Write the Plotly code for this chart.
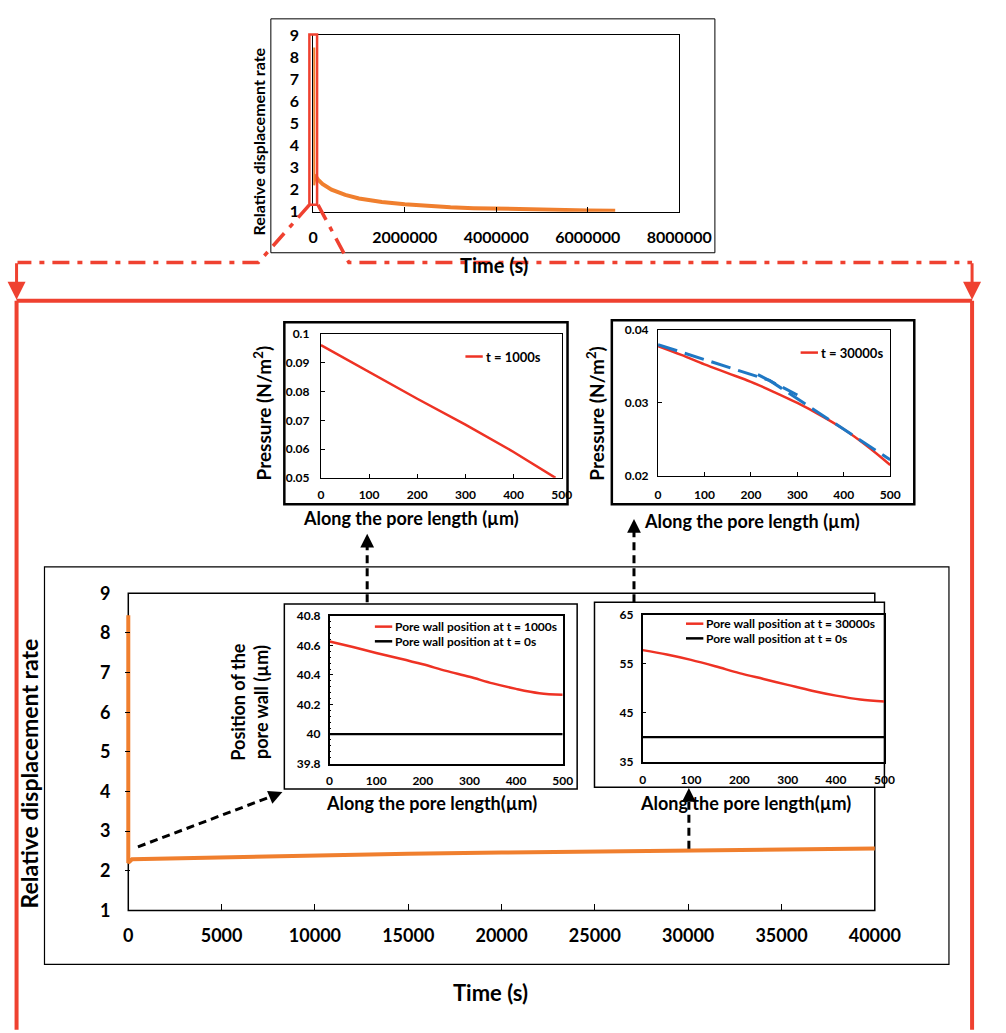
import plotly.graph_objects as go

W, H = 1006, 1033
FONT = "Lato"
BLACK = "#000000"
ORANGE = "#F07F2E"
RED = "#EE3224"
FRAME_RED = "#EF4130"
BLUE = "#1F78C4"

# ---------------- data ----------------
# relative displacement rate vs time (overview and early-time view share it)
time_s = [0, 0, 200, 5000, 10000, 15000, 20000, 25000, 30000, 35000, 40000,
          60000, 100000, 200000, 400000, 700000, 1000000, 1500000, 2000000,
          2500000, 3000000, 3500000, 4000000, 4500000, 5000000, 5500000,
          6000000, 6600000]
rel_rate = [8.45, 2.2, 2.29, 2.34, 2.39, 2.43, 2.46, 2.49, 2.52, 2.54, 2.56,
            2.58, 2.47, 2.26, 2.0, 1.76, 1.6, 1.44, 1.34, 1.26, 1.2, 1.16,
            1.13, 1.1, 1.08, 1.065, 1.055, 1.045]

rate_ticks = [1, 2, 3, 4, 5, 6, 7, 8, 9]
overview_time_ticks = [0, 2000000, 4000000, 6000000, 8000000]
zoom_time_ticks = [0, 5000, 10000, 15000, 20000, 25000, 30000, 35000, 40000]
length_ticks = [0, 100, 200, 300, 400, 500]

# pressure along the pore
pore_x_p1000 = [0, 100, 200, 300, 400, 487]
pressure_1000 = [0.0961, 0.0868, 0.0775, 0.0685, 0.0590, 0.0500]
pressure_1000_ticks = [0.05, 0.06, 0.07, 0.08, 0.09, 0.1]

pore_x = [0, 50, 100, 150, 200, 250, 300, 350, 400, 450, 500]
pressure_30000 = [0.0378, 0.0366, 0.0353, 0.0341, 0.0329, 0.0315, 0.0300,
                  0.0283, 0.0264, 0.0241, 0.0215]
pressure_30000_ticks = [0.02, 0.03, 0.04]
fit_a_x = [0, 240, 500]
fit_a_y = [0.0380, 0.0331, 0.0222]
fit_b_x = [215, 300]
fit_b_y = [0.0339, 0.0311]

# pore wall position along the pore
wall_1000 = [40.627, 40.589, 40.549, 40.512, 40.472, 40.428, 40.388, 40.343,
             40.306, 40.277, 40.266]
wall_30000 = [57.8, 56.9, 55.8, 54.5, 53.1, 51.9, 50.7, 49.5, 48.5, 47.7, 47.3]
wall_ends_x = [0, 500]
wall_t0 = [40, 40]
wall_1000_ticks = [39.8, 40, 40.2, 40.4, 40.6, 40.8]
wall_30000_ticks = [35, 45, 55, 65]


# ---------------- helpers ----------------
def fx(x):
    return x / W


def fy(y):
    return 1 - y / H


def bold(size):
    return dict(family=FONT, size=size, color=BLACK, weight="bold")


def make_axis(x0, x1, rng, ticks, labels, size, standoff, ticks_dir="inside",
              ticklen=4, frame=True, lw=1.0, vertical=False, **extra):
    dom = [fy(x1), fy(x0)] if vertical else [fx(x0), fx(x1)]
    ax = dict(domain=dom, range=rng, tickmode="array", tickvals=ticks,
              ticktext=labels, tickfont=bold(size), ticks=ticks_dir,
              ticklen=ticklen, tickcolor=BLACK, tickwidth=1,
              ticklabelstandoff=standoff, showgrid=False, zeroline=False,
              showline=frame, mirror=frame, linecolor=BLACK, linewidth=lw,
              fixedrange=True)
    ax.update(extra)
    return ax


def g(v):
    return f"{v:g}"


shapes = []
annotations = []


def rect(x0, y0, x1, y1, color=BLACK, width=1.0, fill="rgba(0,0,0,0)", layer="below"):
    shapes.append(dict(type="rect", xref="paper", yref="paper",
                       x0=fx(x0), x1=fx(x1), y0=fy(y1), y1=fy(y0),
                       line=dict(color=color, width=width), fillcolor=fill,
                       layer=layer))


def poly(points, color, width, dash="solid", layer="above"):
    d = "M" + " L".join(f"{fx(x):.5f},{fy(y):.5f}" for x, y in points)
    shapes.append(dict(type="path", xref="paper", yref="paper", path=d,
                       line=dict(color=color, width=width, dash=dash),
                       layer=layer))


def head(x, y, dx, dy, color, width, size=1.0):
    annotations.append(dict(x=fx(x), y=fy(y), xref="paper", yref="paper",
                            ax=dx, ay=dy, text="", showarrow=True,
                            arrowhead=2, arrowsize=size, arrowwidth=width,
                            arrowcolor=color, standoff=0, startstandoff=0))


def label(text, x, y, size, angle=0, xanchor="center"):
    annotations.append(dict(text=text, x=fx(x), y=fy(y), xref="paper",
                            yref="paper", showarrow=False, font=bold(size),
                            textangle=angle, xanchor=xanchor, yanchor="middle"))


def legend_item(x, y, color, text, size=12):
    poly([(x, y), (x + 18, y)], color, 2.5)
    label(text, x + 19, y, size, xanchor="left")


# ---------------- figure ----------------
fig = go.Figure()

# overview of the whole simulation
fig.add_trace(go.Scatter(x=time_s, y=rel_rate, mode="lines",
                         line=dict(color=ORANGE, width=4),
                         xaxis="x", yaxis="y", hoverinfo="skip"))
# early-time view
fig.add_trace(go.Scatter(x=time_s, y=rel_rate, mode="lines",
                         line=dict(color=ORANGE, width=4),
                         xaxis="x2", yaxis="y2", hoverinfo="skip"))
# pressure at t = 1000 s
fig.add_trace(go.Scatter(x=pore_x_p1000, y=pressure_1000, mode="lines",
                         line=dict(color=RED, width=2.5),
                         xaxis="x3", yaxis="y3", hoverinfo="skip"))
# pressure at t = 30000 s with the two linear estimates
fig.add_trace(go.Scatter(x=pore_x, y=pressure_30000, mode="lines",
                         line=dict(color=RED, width=2.5, shape="spline"),
                         xaxis="x4", yaxis="y4", hoverinfo="skip"))
for xs, ys in ((fit_a_x, fit_a_y), (fit_b_x, fit_b_y)):
    fig.add_trace(go.Scatter(x=xs, y=ys, mode="lines",
                             line=dict(color=BLUE, width=3, dash="20px,8px"),
                             xaxis="x4", yaxis="y4", hoverinfo="skip"))
# pore wall position at t = 1000 s
fig.add_trace(go.Scatter(x=pore_x, y=wall_1000, mode="lines",
                         line=dict(color=RED, width=2.5, shape="spline"),
                         xaxis="x5", yaxis="y5", hoverinfo="skip"))
fig.add_trace(go.Scatter(x=wall_ends_x, y=wall_t0, mode="lines",
                         line=dict(color=BLACK, width=2.2),
                         xaxis="x5", yaxis="y5", hoverinfo="skip"))
# pore wall position at t = 30000 s
fig.add_trace(go.Scatter(x=pore_x, y=wall_30000, mode="lines",
                         line=dict(color=RED, width=2.5, shape="spline"),
                         xaxis="x6", yaxis="y6", hoverinfo="skip"))
fig.add_trace(go.Scatter(x=wall_ends_x, y=wall_t0, mode="lines",
                         line=dict(color=BLACK, width=2.2),
                         xaxis="x6", yaxis="y6", hoverinfo="skip"))

length_labels = [g(v) for v in length_ticks]

layout = dict(
    width=W, height=H, margin=dict(l=0, r=0, t=0, b=0),
    paper_bgcolor="white", plot_bgcolor="rgba(0,0,0,0)", showlegend=False,
    font=dict(family=FONT, color=BLACK),
    # overview
    xaxis=make_axis(320, 700, [0, 8000000], overview_time_ticks,
                    [str(v) for v in overview_time_ticks], 16, 11,
                    ticklen=5, anchor="y"),
    yaxis=make_axis(24, 204, [1, 9], rate_ticks, [str(v) for v in rate_ticks],
                    16, 10, ticks_dir="", vertical=True, anchor="x"),
    # early-time view: the axis starts a hair left of t = 0 so the initial
    # spike is not clipped; its frame is a shape so the insets can cover it
    xaxis2=make_axis(125, 903, [-155, 40000], zoom_time_ticks,
                     [str(v) for v in zoom_time_ticks], 18, 13, ticklen=6,
                     frame=False, anchor="y2"),
    yaxis2=make_axis(594, 918, [1, 9], rate_ticks, [str(v) for v in rate_ticks],
                     18, 14, ticklen=5, frame=False, vertical=True, anchor="x2"),
    # pressure insets
    xaxis3=make_axis(328, 578, [0, 500], length_ticks, length_labels, 12, 6,
                     anchor="y3", lw=1.2),
    yaxis3=make_axis(329, 476, [0.05, 0.1], pressure_1000_ticks,
                     [g(v) for v in pressure_1000_ticks], 12, 8,
                     vertical=True, anchor="x3", lw=1.2),
    xaxis4=make_axis(678, 919, [0, 500], length_ticks, length_labels, 12, 8,
                     anchor="y4", lw=1.2),
    yaxis4=make_axis(325, 474, [0.02, 0.04], pressure_30000_ticks,
                     [g(v) for v in pressure_30000_ticks], 12, 6,
                     vertical=True, anchor="x4", lw=1.2),
    # pore wall insets
    xaxis5=make_axis(337, 579, [0, 500], length_ticks, length_labels, 12, 5,
                     ticks_dir="", anchor="y5", lw=1.5),
    yaxis5=make_axis(617, 768, [39.8, 40.8], wall_1000_ticks,
                     [g(v) for v in wall_1000_ticks], 12, 5, ticklen=4,
                     vertical=True, anchor="x5", lw=1.5,
                     minor=dict(ticks="inside", ticklen=2, dtick=0.04,
                                tickcolor=BLACK)),
    xaxis6=make_axis(662, 913, [0, 500], length_ticks, length_labels, 12, 6,
                     ticks_dir="", anchor="y6", lw=1.5),
    yaxis6=make_axis(616, 766, [35, 65], wall_30000_ticks,
                     [g(v) for v in wall_30000_ticks], 12, 5, ticklen=4,
                     vertical=True, anchor="x6", lw=1.5),
)

# ---- frames and boxes (order matters: later boxes cover earlier ones) ----
rect(276, 7, 737, 246, width=1)                    # overview outer box
rect(41, 567, 980, 973, width=1.2)                 # early-time outer box
rect(128, 594, 903, 918, width=1.5)                # early-time plot frame
rect(290, 317, 584, 503, width=2.5, fill="white")  # pressure t=1000 s
rect(630, 315, 944, 503, width=2.5, fill="white")  # pressure t=30000 s
rect(290, 605, 594, 794, width=1.5, fill="white")  # wall t=1000 s
rect(612, 603, 913, 792, width=1.5, fill="white")  # wall t=30000 s

# highlighted early-time window on the overview
rect(316, 23, 324, 197, color=FRAME_RED, width=2.5, layer="above")

# dash-dot leaders to the enlarged view
DASHDOT = "17px,8px,5px,8px"
poly([(316, 197), (263, 256), (13, 256)], FRAME_RED, 3.5, DASHDOT)
poly([(325, 197), (357, 256), (1004, 256)], FRAME_RED, 3.5, DASHDOT)
head(12, 294, 0, -38, FRAME_RED, 3, 1.2)
head(1004, 294, 0, -38, FRAME_RED, 3, 1.2)

# red frame around the enlarged view
poly([(12, 295), (1004, 295)], FRAME_RED, 4)
poly([(12, 295), (12, 1040)], FRAME_RED, 4)
poly([(1004, 295), (1004, 1040)], FRAME_RED, 4)

# black dashed pointers to the insets
BDASH = "8px,5px"
poly([(138, 853), (278, 801)], BLACK, 3, BDASH)
head(288, 797, -12, 5, BLACK, 2.5, 1.1)
poly([(710, 855), (710, 803)], BLACK, 3, BDASH)
head(710, 793, 0, 12, BLACK, 2.5, 1.1)
poly([(376, 603), (376, 543)], BLACK, 3, BDASH)
head(376, 533, 0, 12, BLACK, 2.5, 1.1)
poly([(653, 603), (653, 528)], BLACK, 3, BDASH)
head(653, 518, 0, 12, BLACK, 2.5, 1.1)

# ---- legends ----
legend_item(478, 352, RED, "t = 1000s", 13)
legend_item(826, 348, RED, "t = 30000s", 13)
legend_item(384, 628, RED, "Pore wall position at t = 1000s")
legend_item(384, 643, BLACK, "Pore wall position at t = 0s")
legend_item(707, 625, RED, "Pore wall position at t = 30000s")
legend_item(707, 640, BLACK, "Pore wall position at t = 0s")

# ---- axis titles ----
label("Relative displacement rate", 263, 132, 16, angle=-90)
label("Time (s)", 508, 258, 20)
label("Relative displacement rate", 25, 778, 23, angle=-90)
label("Time (s)", 504, 1002, 22)
label("Pressure (N/m<sup>2</sup>)", 267, 410, 19, angle=-90)
label("Along the pore length (µm)", 422, 517, 18)
label("Pressure (N/m<sup>2</sup>)", 613, 410, 19, angle=-90)
label("Along the pore length (µm)", 776, 520, 18)
label("Position of the<br>pore wall (µm)", 254, 705, 18, angle=-90)
label("Along the pore length(µm)", 443, 808, 18)
label("Along the pore length(µm)", 769, 808, 18)

layout["shapes"] = shapes
layout["annotations"] = annotations
fig.update_layout(**layout)

fig.write_html("out.html", include_plotlyjs=True, config={"displayModeBar": False})
